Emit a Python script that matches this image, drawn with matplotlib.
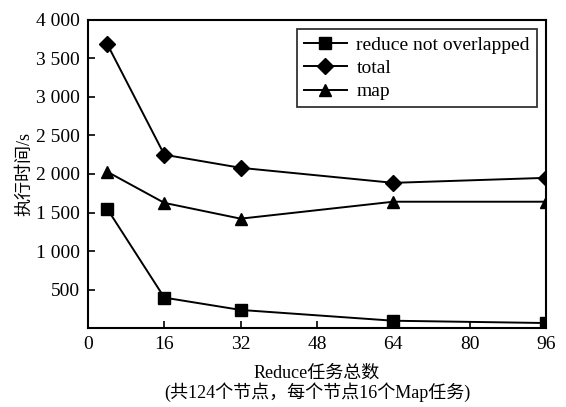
import matplotlib
matplotlib.use("Agg")
import matplotlib.pyplot as plt
from matplotlib.ticker import FuncFormatter

plt.rcParams["font.family"] = ["Liberation Serif", "Noto Sans CJK SC"]

reduce_counts = [4, 16, 32, 64, 96]
reduce_not_overlapped = [1550, 395, 235, 95, 65]
total = [3690, 2250, 2080, 1885, 1950]
map_time = [2030, 1625, 1420, 1640, 1640]

x_ticks = [0, 16, 32, 48, 64, 80, 96]
y_ticks = [500, 1000, 1500, 2000, 2500, 3000, 3500, 4000]


def thousands(v, pos):
    return f"{int(v):,}".replace(",", " ")


fig = plt.figure(figsize=(5.66, 4.07), dpi=100)
ax = fig.add_axes([0.1555, 0.194, 0.809, 0.757])

ax.plot(reduce_counts, reduce_not_overlapped, color="black", marker="s", markersize=8,
        linewidth=1.4, label="reduce not overlapped")
ax.plot(reduce_counts, total, color="black", marker="D", markersize=8,
        linewidth=1.4, label="total")
ax.plot(reduce_counts, map_time, color="black", marker="^", markersize=9,
        linewidth=1.4, label="map")

ax.set_xlim(0, 96)
ax.set_ylim(0, 4000)
ax.set_xticks(x_ticks)
ax.set_yticks(y_ticks)
ax.yaxis.set_major_formatter(FuncFormatter(thousands))
ax.tick_params(direction="in", length=5, width=1.2, labelsize=14, pad=6)
for s in ax.spines.values():
    s.set_linewidth(1.5)

ax.set_ylabel("执行时间/s", fontsize=13, labelpad=2)
ax.set_xlabel("Reduce任务总数\n(共124个节点，每个节点16个Map任务)", fontsize=13,
              labelpad=8, linespacing=1.05)

leg = ax.legend(loc="upper right", bbox_to_anchor=(0.98, 0.97), fontsize=14,
                frameon=True, fancybox=False, edgecolor="black", handlelength=2.2,
                borderpad=0.35, labelspacing=0.3, handletextpad=0.5, borderaxespad=0)
leg.get_frame().set_linewidth(1.3)

fig.savefig("out.png", dpi=100)
